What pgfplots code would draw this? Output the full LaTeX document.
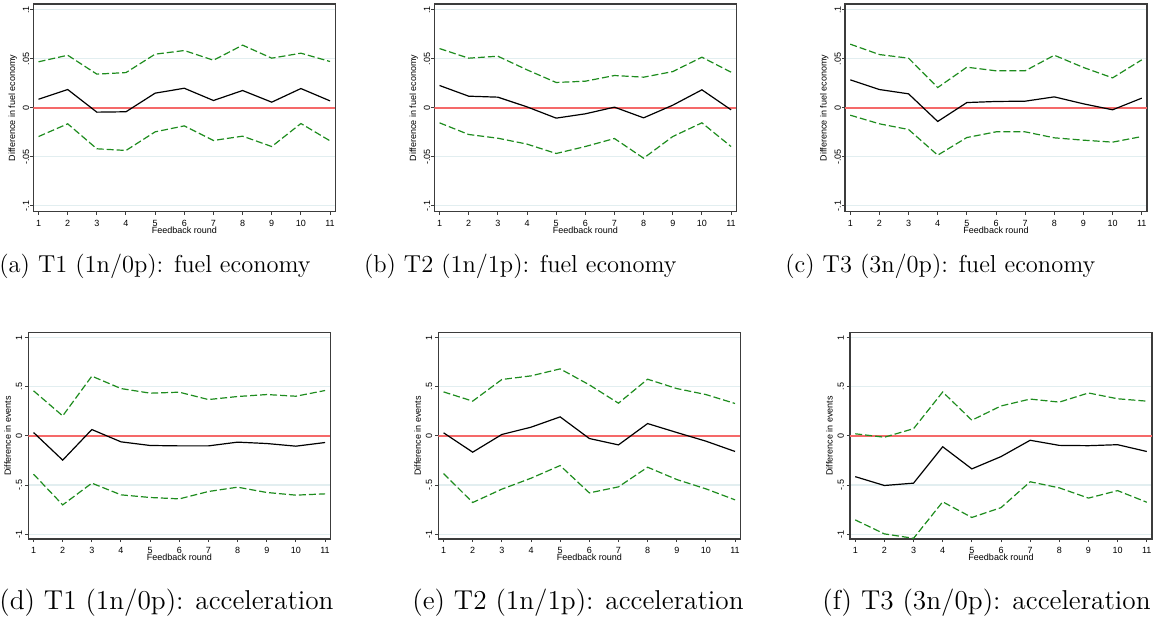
\documentclass[border=0pt]{standalone}
\usepackage{fontspec}
\usepackage{pgfplots}
\usepackage{pgfplotstable}
\pgfplotsset{compat=1.18}
\newfontfamily\axisfont{Liberation Sans}
\newcommand{\axfont}{\axisfont\fontsize{4.5}{5}\selectfont}
\definecolor{cigreen}{RGB}{30,140,30}
\definecolor{zred}{RGB}{245,105,105}
\definecolor{gridc}{RGB}{226,238,240}
\definecolor{framec}{RGB}{60,60,60}

\pgfplotstableread{
x est lo hi
1 0.0088 -0.0293 0.0470
2 0.0187 -0.0163 0.0537
3 -0.0044 -0.0418 0.0344
4 -0.0040 -0.0435 0.0360
5 0.0150 -0.0245 0.0548
6 0.0200 -0.0184 0.0585
7 0.0075 -0.0333 0.0486
8 0.0177 -0.0289 0.0640
9 0.0058 -0.0395 0.0507
10 0.0197 -0.0160 0.0558
11 0.0071 -0.0337 0.0473
}\dataA
\pgfplotstableread{
x est lo hi
1 0.0228 -0.0153 0.0605
2 0.0119 -0.0272 0.0507
3 0.0109 -0.0310 0.0527
4 0.0010 -0.0370 0.0388
5 -0.0105 -0.0466 0.0259
6 -0.0061 -0.0395 0.0272
7 0.0007 -0.0313 0.0330
8 -0.0102 -0.0514 0.0313
9 0.0027 -0.0293 0.0370
10 0.0184 -0.0153 0.0517
11 -0.0020 -0.0395 0.0364
}\dataB
\pgfplotstableread{
x est lo hi
1 0.0286 -0.0075 0.0650
2 0.0187 -0.0163 0.0544
3 0.0143 -0.0221 0.0507
4 -0.0139 -0.0483 0.0207
5 0.0054 -0.0303 0.0415
6 0.0065 -0.0245 0.0378
7 0.0068 -0.0245 0.0378
8 0.0112 -0.0306 0.0537
9 0.0041 -0.0330 0.0412
10 -0.0020 -0.0350 0.0306
11 0.0099 -0.0293 0.0490
}\dataC
\pgfplotstableread{
x est lo hi
1 0.034 -0.390 0.458
2 -0.247 -0.702 0.203
3 0.064 -0.481 0.607
4 -0.061 -0.600 0.481
5 -0.098 -0.627 0.434
6 -0.102 -0.641 0.444
7 -0.102 -0.566 0.369
8 -0.064 -0.522 0.400
9 -0.078 -0.576 0.420
10 -0.105 -0.603 0.403
11 -0.068 -0.590 0.461
}\dataD
\pgfplotstableread{
x est lo hi
1 0.031 -0.383 0.447
2 -0.166 -0.678 0.353
3 0.014 -0.542 0.573
4 0.088 -0.431 0.610
5 0.193 -0.302 0.681
6 -0.027 -0.580 0.519
7 -0.092 -0.519 0.332
8 0.125 -0.319 0.576
9 0.034 -0.444 0.481
10 -0.054 -0.539 0.420
11 -0.159 -0.651 0.329
}\dataE
\pgfplotstableread{
x est lo hi
1 -0.415 -0.855 0.021
2 -0.505 -0.997 -0.014
3 -0.481 -1.042 0.073
4 -0.111 -0.671 0.446
5 -0.336 -0.830 0.159
6 -0.211 -0.730 0.304
7 -0.045 -0.467 0.374
8 -0.097 -0.529 0.343
9 -0.100 -0.633 0.436
10 -0.090 -0.557 0.377
11 -0.159 -0.675 0.353
}\dataF

\pgfplotsset{
  panel/.style={
    scale only axis, width=151pt,
    xmin=0.82, xmax=11.18, xtick={1,2,...,11},
    xticklabels={1,2,3,4,5,6,7,8,9,10,11},
    tick pos=left, tick align=outside, major tick length=1.6pt,
    ymajorgrids, major grid style={gridc, line width=0.6pt},
    axis line style={framec, line width=0.75pt},
    every tick/.style={framec, line width=0.5pt},
    xticklabel style={font=\axfont, anchor=center, yshift=-4.2pt, inner sep=0pt},
    every axis x label/.style={font=\axfont, at={([yshift=-9.3pt]axis description cs:0.5,0)}, anchor=center},
    every axis y label/.style={font=\axfont, at={([xshift=-10.3pt]axis description cs:0,0.5)}, rotate=90, anchor=center},
    xlabel={Feedback round},
    scaled y ticks=false,
  },
  fuel/.style={
    height=103.85pt, ymin=-0.106, ymax=0.106,
    ytick={-0.1,-0.05,0,0.05,0.1}, yticklabels={-.1,-.05,0,.05,.1},
    yticklabel style={font=\axfont, xshift=-2pt, rotate=90, anchor=center, inner sep=0pt},
    ylabel={Difference in fuel economy},
  },
  accel/.style={
    height=103.15pt, ymin=-1.049, ymax=1.049,
    ytick={-1,-0.5,0,0.5,1}, yticklabels={-1,-.5,0,.5,1},
    yticklabel style={font=\axfont, xshift=-3pt, rotate=90, anchor=center, inner sep=0pt},
    ylabel={Difference in events},
  },
}

\newcommand{\drawpanel}[4]{%
\begin{axis}[panel, #4, at={(#1,#2)}, anchor=south west]
\addplot[zred, line width=1pt] coordinates {(0.82,0) (11.18,0)};
\addplot[black, line width=0.6pt] table[x=x,y=est]{#3};
\addplot[cigreen, line width=0.6pt, dash pattern=on 3.5pt off 1.5pt] table[x=x,y=hi]{#3};
\addplot[cigreen, line width=0.6pt, dash pattern=on 3.5pt off 1.5pt] table[x=x,y=lo]{#3};
\end{axis}}

\begin{document}
\begin{tikzpicture}
\useasboundingbox (0,0) rectangle (578.5pt,310.5pt);
\drawpanel{16.65pt}{204.65pt}{\dataA}{fuel}
\drawpanel{217.15pt}{204.65pt}{\dataB}{fuel}
\drawpanel{422.5pt}{204.65pt}{\dataC}{fuel}
\drawpanel{14.15pt}{41pt}{\dataD}{accel}
\drawpanel{219.15pt}{41pt}{\dataE}{accel}
\drawpanel{425pt}{41pt}{\dataF}{accel}
\begin{scope}[every node/.style={anchor=base west, inner sep=0pt, font=\fontsize{12.25}{14}\selectfont}]
\node at (-0.5pt,174.2pt) {(a) T1 (1n/0p): fuel economy};
\node at (181.8pt,174.2pt) {(b) T2 (1n/1p): fuel economy};
\node at (392.5pt,174.2pt) {(c) T3 (3n/0p): fuel economy};
\end{scope}
\begin{scope}[every node/.style={anchor=base west, inner sep=0pt, font=\fontsize{13.65}{15}\selectfont}]
\node at (-0.5pt,5.6pt) {(d) T1 (1n/0p): acceleration};
\node at (206pt,5.6pt) {(e) T2 (1n/1p): acceleration};
\node at (411pt,5.6pt) {(f) T3 (3n/0p): acceleration};
\end{scope}
\end{tikzpicture}
\end{document}
